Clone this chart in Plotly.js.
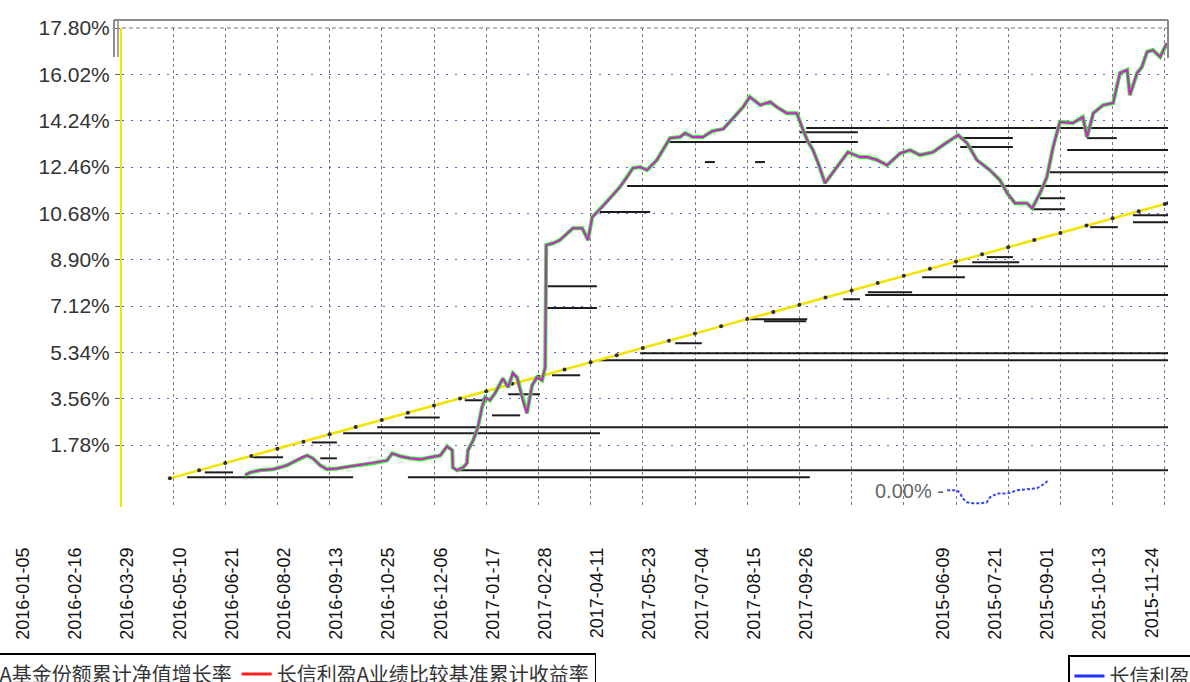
<!DOCTYPE html>
<html>
<head>
<meta charset="utf-8">
<script src="https://cdn.plot.ly/plotly-3.0.1.min.js"></script>
<style>
html,body{margin:0;padding:0;background:#fff;}
#chart{width:1190px;height:682px;}
</style>
</head>
<body>
<div id="chart"></div>
<script>
// ---- data (x in 6-week grid steps, y in percent) ----
const labels2016 = ['2016-01-05','2016-02-16','2016-03-29','2016-05-10','2016-06-21','2016-08-02','2016-09-13','2016-10-25','2016-12-06','2017-01-17','2017-02-28','2017-04-11','2017-05-23','2017-07-04','2017-08-15','2017-09-26'];
const labels2015 = ['2015-06-09','2015-07-21','2015-09-01','2015-10-13','2015-11-24'];
const yTickVals = [1.78,3.56,5.34,7.12,8.90,10.68,12.46,14.24,16.02,17.80];

const seriesNames = ['长信利盈A基金份额累计净值增长率','长信利盈A业绩比较基准累计收益率','长信利盈A基金份额累计净值增长率'];

const fundX = [1.38,1.48,1.67,1.92,2.05,2.18,2.30,2.47,2.57,2.68,
2.82,2.95,3.14,3.39,3.58,3.83,4.10,4.20,4.35,4.54,
4.73,4.92,5.12,5.25,5.35,5.36,5.44,5.56,5.63,5.65,
5.75,5.84,5.92,5.98,6.07,6.17,6.26,6.32,6.42,6.51,
6.59,6.69,6.78,6.88,6.97,7.07,7.13,7.15,7.28,7.41,
7.66,7.84,7.95,8.03,8.22,8.37,8.56,8.70,8.81,8.95,
9.08,9.27,9.39,9.52,9.71,9.81,9.96,10.15,10.33,10.54,
10.73,10.92,11.05,11.25,11.44,11.57,11.76,11.95,12.05,12.15,
12.26,12.36,12.49,12.64,12.78,12.93,13.16,13.30,13.49,13.68,
13.93,14.12,14.31,14.56,14.75,15.04,15.21,15.40,15.65,15.84,
15.98,16.13,16.36,16.46,16.61,16.74,16.86,16.99,17.24,17.43,
17.51,17.63,17.82,18.01,18.14,18.28,18.33,18.47,18.56,18.66,
18.77,18.91,19.04];
const fundY = [0.62,0.73,0.81,0.85,0.92,1.00,1.12,1.31,1.38,1.27,
1.00,0.85,0.88,0.96,1.00,1.08,1.19,1.46,1.35,1.27,
1.23,1.31,1.38,1.73,1.58,0.92,0.81,0.92,1.08,1.58,
1.96,2.46,3.23,3.61,3.50,3.77,4.08,4.34,4.00,4.54,
4.38,3.58,3.00,4.08,4.38,4.27,4.77,9.46,9.53,9.65,
10.11,10.11,9.65,10.53,10.92,11.26,11.69,12.07,12.42,12.46,
12.34,12.73,13.11,13.57,13.61,13.76,13.61,13.61,13.84,13.92,
14.34,14.76,15.15,14.84,14.96,14.76,14.53,14.53,13.99,13.49,
13.11,12.61,11.84,12.23,12.61,13.03,12.84,12.84,12.73,12.53,
12.99,13.11,12.92,13.03,13.30,13.69,13.38,12.73,12.34,11.96,
11.46,11.07,11.07,10.88,11.46,12.07,13.23,14.19,14.15,14.38,
13.61,14.53,14.84,14.92,16.07,16.19,15.22,16.07,16.30,16.88,
16.95,16.69,17.22];

const benchX = [-0.06,0.5,1,1.5,2,2.5,3,3.5,4,4.5,5,5.5,6,6.5,7,7.5,8,8.5,9,9.5,10,10.5,11,11.5,12,12.5,13,13.5,14,14.5,15,15.5,16,16.5,17,17.5,18,18.5,19,19.06];
const benchY = [0.50,0.81,1.09,1.36,1.64,1.91,2.19,2.47,2.74,3.02,3.30,3.57,3.85,4.13,4.40,4.68,4.96,5.23,5.51,5.79,6.06,6.34,6.62,6.89,7.17,7.45,7.72,8.00,8.28,8.55,8.83,9.11,9.38,9.66,9.93,10.21,10.49,10.76,11.04,11.07];

const blueX = [14.83,15.02,15.08,15.13,15.21,15.33,15.46,15.59,15.65,15.79,15.98,16.17,16.36,16.55,16.71,16.76];
const blueY = [0.04,0.04,-0.08,-0.27,-0.42,-0.46,-0.46,-0.42,-0.23,-0.08,-0.08,0.04,0.08,0.12,0.31,0.42];

// stray horizontal rules seen in the picture
const segY  = [13.96,13.42,13.11,12.26,11.73,10.73,8.65,7.88,7.54,7.04,5.31,5.04,2.46,2.23,0.81,0.54,0.54,0.73,1.31,1.88,1.27,2.84,3.50,2.92,3.73,4.46,5.69,6.54,7.38,7.65,8.23,8.80,6.61,13.80,13.57,13.23,13.57,11.26,10.84,10.61,10.34,10.15,9.00,12.65,12.65];
const segX0 = [12.13,9.48,17.13,16.80,8.70,8.18,14.94,7.13,13.26,7.13,8.95,8.14,3.91,3.26,5.44,0.27,4.50,0.61,1.53,2.66,2.82,4.44,5.59,6.11,6.42,7.26,9.62,11.32,12.84,13.31,14.35,15.31,11.05,12.01,15.08,15.08,17.51,16.61,16.48,18.39,18.39,17.57,15.59,10.19,11.15];
const segX1 = [19.2,13.12,19.2,19.2,19.2,9.14,19.2,8.12,19.2,8.12,19.2,19.2,19.2,8.18,19.2,3.45,12.20,1.15,2.11,3.14,3.14,5.11,5.94,6.65,7.03,7.80,10.13,12.13,13.16,14.16,15.17,16.21,12.15,13.12,16.09,16.09,18.08,17.09,17.09,19.2,19.2,18.10,16.09,10.38,11.34];

// ---- build ----
const labelVals = labels2016.map((_, i) => -2.87 + i).concat(labels2015.map((_, j) => 14.75 + j));
const labelText = labels2016.concat(labels2015);

const sx = [], sy = [];
segY.forEach((v, i) => { sx.push(segX0[i], segX1[i], null); sy.push(v, v, null); });

const traces = [
  {x:[null], y:[null], xaxis:'x2', yaxis:'y2', mode:'lines', name:seriesNames[0], legend:'legend', line:{color:'#2030ff', width:3}, hoverinfo:'skip'},
  {x:[null], y:[null], xaxis:'x2', yaxis:'y2', mode:'lines', name:seriesNames[1], legend:'legend', line:{color:'#ff2020', width:3}, hoverinfo:'skip'},
  {x:[null], y:[null], xaxis:'x2', yaxis:'y2', mode:'lines', name:seriesNames[2], legend:'legend2', line:{color:'#2030ff', width:3}, hoverinfo:'skip'},
  {x:sx, y:sy, mode:'lines', showlegend:false, line:{color:'#1c1c1c', width:2}, hoverinfo:'skip'},
  {x:benchX, y:benchY, mode:'lines+markers', showlegend:false, line:{color:'#f2e400', width:2.5}, marker:{size:4, color:'#2a2a40'}},
  {x:fundX, y:fundY, mode:'lines', showlegend:false, line:{color:'#2ef02e', width:4}},
  {x:fundX, y:fundY, mode:'lines', showlegend:false, line:{color:'#d020d0', width:2}},
  {x:blueX, y:blueY, mode:'lines', showlegend:false, line:{color:'#3344ff', width:2, dash:'3px,2px'}}
];

const PW = 1168, PT = 28, PB = 507, PH = PB - PT;
const px = v => v / PW;
const py = v => (PB - v) / PH;

const layout = {
  width:1190, height:682,
  margin:{l:0, r:22, t:28, b:175, autoexpand:false},
  paper_bgcolor:'#fff', plot_bgcolor:'rgba(0,0,0,0)',
  showlegend:true,
  xaxis:{domain:[122/PW, 1], range:[-0.977, 19.061], anchor:'y',
    tick0:0, dtick:1, showgrid:true, gridcolor:'#7a7a7a', griddash:'3px,3px', gridwidth:1,
    showticklabels:false, ticks:'', zeroline:false, showline:false},
  yaxis:{domain:[0,1], range:[-0.6, 17.8], anchor:'x',
    tickmode:'array', tickvals:yTickVals, ticktext:yTickVals.map(v => v.toFixed(2) + '%'),
    ticks:'outside', ticklen:5, tickcolor:'#666', ticklabelstandoff:1,
    showline:true, linecolor:'#f2e400', linewidth:2,
    showgrid:true, gridcolor:'#5a5af0', griddash:'2px,7px', gridwidth:1, zeroline:false,
    tickfont:{family:'Liberation Sans, Arial, sans-serif', size:21, color:'#333'}},
  xaxis2:{domain:[0,1], range:[-3.314, 19.061], anchor:'y2',
    tickmode:'array', tickvals:labelVals, ticktext:labelText, tickangle:-90,
    showgrid:false, zeroline:false, showline:false, ticks:'', ticklabelstandoff:36,
    tickfont:{family:'Liberation Sans, Arial, sans-serif', size:18, color:'#111'}},
  yaxis2:{domain:[0,1], range:[-0.6, 17.8], anchor:'x2', visible:false, showgrid:false, zeroline:false},
  legend:{x:px(-122), xanchor:'left', y:-(653-PB)/PH, yanchor:'top', orientation:'h',
    font:{family:'Noto Sans CJK SC, sans-serif', size:20, color:'#333'},
    bordercolor:'#000', borderwidth:1.5, bgcolor:'#fff', itemwidth:30},
  legend2:{x:px(1068), xanchor:'left', y:-(655-PB)/PH, yanchor:'top', orientation:'h',
    font:{family:'Noto Sans CJK SC, sans-serif', size:20, color:'#333'},
    bordercolor:'#000', borderwidth:1.5, bgcolor:'#fff', itemwidth:30},
  annotations:[{xref:'paper', yref:'y', x:px(946), y:0, xanchor:'right', yanchor:'middle',
    text:'0.00% -', showarrow:false, font:{family:'Liberation Sans, Arial, sans-serif', size:20, color:'#666'}}],
  shapes:[
    {type:'line', xref:'paper', yref:'paper', x0:px(114), x1:1, y0:py(20), y1:py(20), line:{color:'#8a8a8a', width:2}},
    {type:'line', xref:'paper', yref:'paper', x0:1, x1:1, y0:py(20), y1:py(58), line:{color:'#8a8a8a', width:2}},
    {type:'line', xref:'paper', yref:'paper', x0:px(114), x1:px(114), y0:py(20), y1:py(57), line:{color:'#666', width:1.5}},
    {type:'line', xref:'paper', yref:'paper', x0:px(118), x1:px(118), y0:py(20), y1:py(57), line:{color:'#888', width:1.5}},
    {type:'line', xref:'paper', yref:'paper', x0:px(122), x1:1, y0:1, y1:1, line:{color:'#777', width:1, dash:'4px,3px'}}
  ]
};

Plotly.newPlot('chart', traces, layout, {displayModeBar:false, staticPlot:true});
</script>
</body>
</html>
